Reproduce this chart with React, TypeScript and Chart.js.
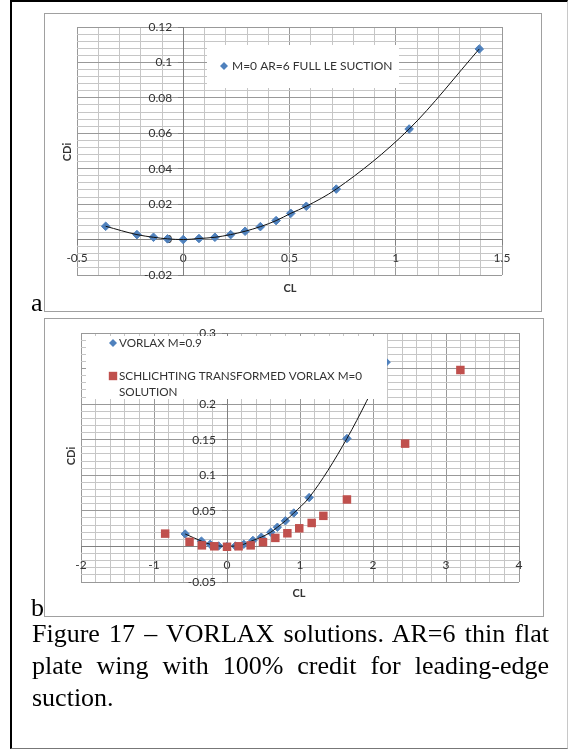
import React, { useEffect, useRef } from "react";
import { Chart, registerables } from "chart.js";

Chart.register(...registerables);

// ---------- Chart a data ----------
const aCL = [-0.365, -0.218, -0.14, -0.074, 0.0, 0.074, 0.149, 0.223, 0.291, 0.363, 0.437, 0.506, 0.579, 0.72, 1.063, 1.393];
const aCDi = [0.0075, 0.0028, 0.0013, 0.0004, 0.0, 0.0006, 0.0013, 0.0028, 0.0047, 0.0073, 0.0107, 0.0148, 0.0188, 0.0285, 0.0624, 0.1076];
const aXMajor = [-0.5, 0, 0.5, 1, 1.5];
const aXLabels = ["-0.5", "0", "0.5", "1", "1.5"];
const aYMajor = [-0.02, 0, 0.02, 0.04, 0.06, 0.08, 0.1, 0.12];
const aYLabels = ["-0.02", "0", "0.02", "0.04", "0.06", "0.08", "0.1", "0.12"];
const aLegend = ["M=0 AR=6 FULL LE SUCTION"];

// ---------- Chart b data ----------
const bVorlaxCL = [-0.573, -0.35, -0.23, -0.115, 0.0, 0.115, 0.23, 0.355, 0.47, 0.6, 0.69, 0.8, 0.915, 1.125, 1.643, 2.18];
const bVorlaxCDi = [0.0175, 0.0075, 0.003, 0.0007, 0.0, 0.0007, 0.003, 0.0085, 0.013, 0.02, 0.027, 0.036, 0.047, 0.0687, 0.1517, 0.259];
const bSchCL = [-0.847, -0.513, -0.344, -0.174, 0.0, 0.159, 0.324, 0.493, 0.662, 0.827, 0.99, 1.16, 1.32, 1.643, 2.44, 3.197];
const bSchCDi = [0.018, 0.0065, 0.0015, 0.0002, -0.0005, 0.0002, 0.0015, 0.006, 0.012, 0.0185, 0.0255, 0.033, 0.043, 0.066, 0.1445, 0.248];
const bXMajor = [-2, -1, 0, 1, 2, 3, 4];
const bXLabels = ["-2", "-1", "0", "1", "2", "3", "4"];
const bYMajor = [-0.05, 0, 0.05, 0.1, 0.15, 0.2, 0.25, 0.3];
const bYLabels = ["-0.05", "0", "0.05", "0.1", "0.15", "0.2", "0.25", "0.3"];
const bLegendVorlax = ["VORLAX M=0.9"];
const bLegendSch = ["SCHLICHTING TRANSFORMED VORLAX M=0", "SOLUTION"];

const BLUE = "#4F81BD";
const RED = "#C0504D";
const TEXT = "#333333";

function pts(xs: number[], ys: number[]) {
  return xs.map((x, i) => ({ x, y: ys[i] }));
}

function makeScale(axis: "x" | "y", min: number, max: number, minor: number, majors: number[], labels: string[]) {
  const idx = (v: number) => majors.findIndex((m) => Math.abs(m - v) < minor * 1e-3);
  const isMajor = (c: any) => c && c.tick && idx(c.tick.value) >= 0;
  return {
    type: "linear",
    position: axis === "x" ? { y: 0 } : { x: 0 },
    min,
    max,
    ticks: {
      stepSize: minor,
      autoSkip: false,
      maxRotation: 0,
      minRotation: 0,
      padding: axis === "x" ? 6 : 6,
      color: TEXT,
      font: { family: "Lato", size: 12 },
      callback: (v: number) => {
        const i = idx(v);
        return i >= 0 ? labels[i] : "";
      },
    },
    grid: {
      color: (c: any) => (isMajor(c) ? "#999999" : "#c6c6c6"),
      lineWidth: 1,
      tickLength: 5,
      tickColor: (c: any) => (isMajor(c) ? "#808080" : "rgba(0,0,0,0)"),
    },
    border: { display: true, color: "#808080", width: 1 },
    title: { display: false },
  };
}

// Moves the y-axis tick labels off the crossing axis line (like Excel's "next to axis")
const yLabelGap = {
  id: "yLabelGap",
  beforeDraw(chart: any) {
    const s = chart.scales.y;
    const items = s.getLabelItems(chart.chartArea);
    for (const it of items) {
      if (!it._moved) {
        it.options.translation[0] -= 11;
        it._moved = true;
      }
    }
  },
};

type LegendItem = { ds: number; mx: number; my: number; size: number; tx: number; ty: number; lines: string[] };
function makeLegendPlugin(box: { x: number; y: number; w: number; h: number; font: number; lineH: number; items: LegendItem[] }) {
  return {
    id: "boxLegend",
    afterDraw(chart: any) {
      const ctx = chart.ctx as CanvasRenderingContext2D;
      ctx.save();
      ctx.fillStyle = "#ffffff";
      ctx.fillRect(box.x, box.y, box.w, box.h);
      ctx.font = `${box.font}px Lato`;
      ctx.textBaseline = "middle";
      ctx.textAlign = "left";
      for (const it of box.items) {
        const ds = chart.data.datasets[it.ds];
        ctx.fillStyle = ds.backgroundColor;
        ctx.beginPath();
        if (ds.pointStyle === "rectRot") {
          ctx.moveTo(it.mx, it.my - it.size);
          ctx.lineTo(it.mx + it.size, it.my);
          ctx.lineTo(it.mx, it.my + it.size);
          ctx.lineTo(it.mx - it.size, it.my);
          ctx.closePath();
        } else {
          ctx.rect(it.mx - it.size, it.my - it.size, it.size * 2, it.size * 2);
        }
        ctx.fill();
        ctx.fillStyle = TEXT;
        it.lines.forEach((t, k) => ctx.fillText(t, it.tx, it.ty + k * box.lineH));
      }
      ctx.restore();
    },
  };
}

function buildA() {
  return {
    type: "scatter",
    data: {
      datasets: [
        {
          label: "trend",
          data: pts(aCL, aCDi),
          showLine: true,
          borderColor: "#111",
          borderWidth: 1,
          pointRadius: 0,
          cubicInterpolationMode: "monotone",
          fill: false,
          order: 1,
        },
        {
          label: aLegend[0],
          data: pts(aCL, aCDi),
          pointStyle: "rectRot",
          pointRadius: 4.3,
          backgroundColor: BLUE,
          borderColor: BLUE,
          borderWidth: 1,
          order: 2,
        },
      ],
    },
    options: {
      responsive: false,
      animation: false,
      events: [],
      layout: { padding: { left: 33, right: 40, top: 14, bottom: 37 } },
      plugins: { legend: { display: false }, tooltip: { enabled: false } },
      scales: {
        x: makeScale("x", -0.5, 1.5, 0.1, aXMajor, aXLabels),
        y: makeScale("y", -0.02, 0.12, 0.004, aYMajor, aYLabels),
      },
    },
    plugins: [
      yLabelGap,
      makeLegendPlugin({
        x: 163, y: 32, w: 192, h: 43, font: 12, lineH: 16,
        items: [{ ds: 1, mx: 180, my: 53, size: 4, tx: 188, ty: 53, lines: aLegend }],
      }),
    ],
  };
}

function buildB() {
  return {
    type: "scatter",
    data: {
      datasets: [
        {
          label: bLegendSch.join(" "),
          data: pts(bSchCL, bSchCDi),
          pointStyle: "rect",
          pointRadius: 6,
          backgroundColor: RED,
          borderColor: RED,
          borderWidth: 0,
          order: 1,
        },
        {
          label: "trend",
          data: pts(bVorlaxCL, bVorlaxCDi),
          showLine: true,
          borderColor: "#111",
          borderWidth: 1,
          pointRadius: 0,
          cubicInterpolationMode: "monotone",
          fill: false,
          order: 2,
        },
        {
          label: bLegendVorlax[0],
          data: pts(bVorlaxCL, bVorlaxCDi),
          pointStyle: "rectRot",
          pointRadius: 4.2,
          backgroundColor: BLUE,
          borderColor: BLUE,
          borderWidth: 1,
          order: 3,
        },
      ],
    },
    options: {
      responsive: false,
      animation: false,
      events: [],
      layout: { padding: { left: 37, right: 25, top: 15, bottom: 35 } },
      plugins: { legend: { display: false }, tooltip: { enabled: false } },
      scales: {
        x: makeScale("x", -2, 4, 0.2, bXMajor, bXLabels),
        y: makeScale("y", -0.05, 0.3, 0.01, bYMajor, bYLabels),
      },
    },
    plugins: [
      yLabelGap,
      makeLegendPlugin({
        x: 42, y: 18, w: 301, h: 63, font: 11.7, lineH: 16,
        items: [
          { ds: 2, mx: 69, my: 25, size: 4, tx: 75, ty: 25, lines: bLegendVorlax },
          { ds: 0, mx: 69, my: 58, size: 4.2, tx: 75, ty: 58, lines: bLegendSch },
        ],
      }),
    ],
  };
}

function ChartBox(props: { left: number; top: number; width: number; height: number; build: () => any }) {
  const ref = useRef<HTMLCanvasElement>(null);
  useEffect(() => {
    const chart = new Chart(ref.current as HTMLCanvasElement, props.build() as any);
    return () => chart.destroy();
  }, []);
  return (
    <div
      style={{
        position: "absolute",
        left: props.left,
        top: props.top,
        width: props.width,
        height: props.height,
        boxSizing: "border-box",
        border: "1px solid #a0a0a0",
        background: "#fff",
      }}
    >
      <canvas
        ref={ref}
        width={props.width}
        height={props.height}
        style={{ position: "absolute", left: -1, top: -1, display: "block" }}
      />
    </div>
  );
}

const titleStyle: React.CSSProperties = {
  position: "absolute",
  fontFamily: "Lato",
  fontWeight: 700,
  fontSize: 11,
  color: TEXT,
  whiteSpace: "nowrap",
  lineHeight: "12px",
};

const serif: React.CSSProperties = {
  position: "absolute",
  fontFamily: "'Liberation Serif', 'Times New Roman', serif",
  fontSize: 26,
  color: "#000",
};

export default function App() {
  return (
    <div style={{ position: "absolute", left: 0, top: 0, width: 570, height: 751, background: "#fff", overflow: "hidden" }}>
      <div
        style={{
          position: "absolute",
          left: 10,
          top: 0,
          width: 558,
          height: 749,
          boxSizing: "border-box",
          borderTop: "2px solid #000",
          borderLeft: "2px solid #000",
          borderRight: "1px solid #c8c8c8",
          borderBottom: "1px solid #777",
        }}
      />
      <ChartBox left={44} top={13} width={498} height={299} build={buildA} />
      <ChartBox left={44} top={318} width={500} height={299} build={buildB} />

      <div style={{ ...titleStyle, left: 67, top: 152, transform: "translate(-50%, -50%) rotate(-90deg)" }}>CDi</div>
      <div style={{ ...titleStyle, left: 290, top: 288, transform: "translate(-50%, -50%)" }}>CL</div>
      <div style={{ ...titleStyle, left: 71, top: 456, transform: "translate(-50%, -50%) rotate(-90deg)" }}>CDi</div>
      <div style={{ ...titleStyle, left: 299, top: 593, transform: "translate(-50%, -50%)" }}>CL</div>

      <div style={{ ...serif, left: 31, top: 290, lineHeight: "26px" }}>a</div>
      <div style={{ ...serif, left: 31, top: 595, lineHeight: "26px" }}>b</div>

      <div style={{ ...serif, left: 32, top: 618, width: 517, lineHeight: "32px", textAlign: "justify" }}>
        Figure 17 – VORLAX solutions. AR=6 thin flat plate wing with 100% credit for leading-edge suction.
      </div>
    </div>
  );
}
